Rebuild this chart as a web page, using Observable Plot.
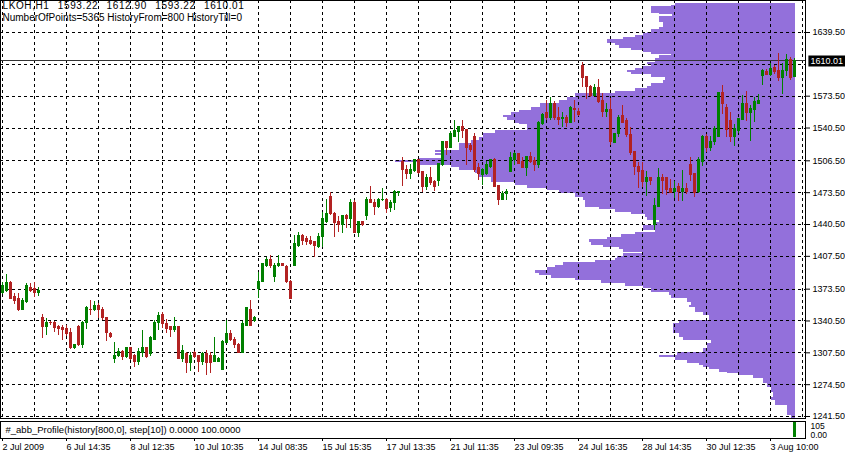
<!DOCTYPE html>
<html><head><meta charset="utf-8">
<script src="https://cdn.jsdelivr.net/npm/d3@7"></script>
<script src="https://cdn.jsdelivr.net/npm/@observablehq/plot@0.6"></script>
<style>
html,body{margin:0;padding:0;background:#fff;}
#chart svg{display:block;}
#chart text{white-space:pre;}
</style></head><body><div id="chart"></div>
<script>
// ---------- data ----------
const symbol = "LKOH,H1";
const headerOHLC = "1593.22 1612.90 1593.22 1610.01";
const headerInfo = "NumberOfPoints=5365 HistoryFrom=800 HistoryTill=0";
const indicatorLabel = "#_abb_Profile(history[800,0], step[10]) 0.0000 100.0000";
const indicatorMaxLabel = "105";
const indicatorMinLabel = "0.00";
const dateLabels = ["2 Jul 2009","6 Jul 14:35","8 Jul 12:35","10 Jul 10:35","14 Jul 08:35","15 Jul 15:35","17 Jul 13:35","21 Jul 11:35","23 Jul 09:35","24 Jul 16:35","28 Jul 14:35","30 Jul 12:35","3 Aug 10:00"];
const priceTicks = [1639.5,1606.5,1573.5,1540.5,1506.5,1473.5,1440.5,1407.5,1373.5,1340.5,1307.5,1274.5,1241.5];
const hiddenTick = 1606.5;
const lastPrice = 1610.01;

const open = [1369.0,1371.1,1379.4,1364.9,1362.8,1352.4,1359.7,1375.2,1373.2,1370.0,
1343.1,1333.8,1338.9,1337.9,1333.8,1332.8,1331.7,1327.6,1312.0,1333.8,
1316.1,1337.9,1352.4,1351.4,1356.5,1352.4,1343.1,1327.5,1300.6,1303.7,
1307.9,1302.7,1312.0,1303.7,1298.5,1306.8,1312.0,1305.8,1321.3,1337.9,
1346.2,1336.9,1333.8,1330.7,1333.8,1301.6,1305.8,1296.5,1306.8,1303.7,
1298.5,1305.8,1304.7,1298.5,1298.5,1290.2,1317.2,1326.5,1321.3,1316.1,
1306.8,1335.8,1352.4,1340.0,1373.2,1380.4,1398.0,1403.2,1386.6,1397.0,
1399.1,1396.0,1381.4,1398.0,1417.7,1428.1,1425.0,1422.9,1421.9,1416.7,
1427.1,1443.6,1468.5,1450.9,1442.6,1440.5,1448.8,1445.7,1463.3,1432.2,
1442.6,1448.8,1466.4,1463.3,1458.2,1465.4,1466.4,1457.1,1463.3,1472.7,
1504.8,1497.5,1492.4,1495.5,1506.9,1494.4,1478.9,1489.2,1484.1,1486.1,
1501.7,1525.5,1520.3,1531.7,1535.9,1541.1,1538.0,1521.4,1531.7,1498.6,
1491.3,1492.4,1499.6,1506.9,1479.9,1465.4,1471.6,1494.4,1506.9,1513.1,
1504.8,1498.6,1510.0,1505.8,1501.7,1544.2,1555.6,1550.4,1564.9,1551.4,
1549.4,1550.4,1546.2,1559.7,1557.6,1604.3,1592.9,1582.5,1574.2,1581.5,
1569.0,1556.6,1558.7,1524.5,1534.8,1552.5,1547.3,1532.8,1515.2,1499.6,
1495.5,1484.1,1489.2,1439.5,1458.2,1489.2,1488.2,1477.8,1473.7,1478.9,
1474.7,1477.8,1501.7,1492.4,1473.7,1504.8,1531.7,1520.3,1525.5,1531.7,
1576.3,1560.8,1547.3,1530.7,1536.9,1548.3,1564.9,1555.6,1558.7,1565.9,
1593.9,1598.1,1595.0,1602.2,1599.1,1591.9,1599.1,1610.5,1593.22];

const high = [1380.4,1388.7,1381.4,1369.0,1369.0,1363.8,1379.4,1379.4,1380.4,1375.2,
1347.2,1343.1,1340.0,1340.0,1335.9,1335.9,1335.9,1332.8,1315.1,1335.9,
1340.0,1355.5,1361.7,1360.7,1358.6,1354.5,1344.1,1328.6,1318.2,1312.0,
1309.9,1313.0,1313.0,1305.8,1312.0,1330.7,1313.0,1324.4,1341.0,1349.3,
1349.3,1342.1,1334.8,1344.1,1334.8,1315.1,1307.9,1307.9,1308.9,1304.7,
1307.9,1309.9,1307.9,1323.4,1302.7,1320.3,1341.0,1330.7,1323.4,1317.2,
1340.0,1354.5,1361.7,1345.2,1390.8,1400.1,1406.3,1408.4,1400.1,1408.4,
1400.1,1398.0,1382.5,1429.1,1432.2,1430.2,1428.1,1428.1,1422.9,1431.2,
1453.0,1466.4,1473.7,1453.0,1448.8,1449.9,1450.9,1466.4,1465.4,1442.6,
1442.6,1468.5,1479.9,1466.4,1467.5,1477.8,1467.5,1465.4,1475.8,1474.7,
1510.0,1501.7,1502.7,1507.9,1507.9,1495.5,1492.4,1499.6,1486.1,1503.7,
1526.5,1525.5,1536.9,1548.3,1542.1,1548.3,1538.0,1524.5,1534.8,1503.7,
1498.6,1505.8,1507.9,1509.0,1481.0,1474.7,1476.8,1515.2,1515.2,1514.1,
1510.0,1511.0,1515.2,1510.0,1547.3,1555.6,1569.0,1572.2,1568.0,1561.8,
1556.6,1553.5,1562.8,1569.0,1560.8,1608.4,1592.9,1584.6,1585.6,1590.8,
1576.3,1565.9,1571.1,1534.8,1553.5,1563.9,1550.4,1541.1,1516.2,1504.8,
1504.8,1495.5,1489.2,1467.5,1498.6,1492.4,1489.2,1487.2,1485.1,1483.0,
1496.5,1483.0,1510.0,1493.4,1510.0,1532.8,1533.8,1531.7,1542.1,1577.3,
1584.6,1564.9,1556.6,1544.2,1550.4,1574.2,1578.4,1563.9,1572.2,1575.3,
1601.2,1601.2,1607.4,1605.3,1617.8,1607.4,1616.7,1613.6,1612.90];

const low = [1368.0,1370.0,1362.8,1357.5,1350.3,1351.4,1358.6,1370.0,1364.9,1365.9,
1322.4,1325.5,1335.9,1328.6,1325.5,1320.3,1324.4,1311.0,1311.0,1314.1,
1312.0,1331.7,1346.2,1350.3,1343.1,1341.0,1319.3,1322.4,1296.5,1302.7,
1299.6,1301.6,1299.6,1292.3,1294.4,1302.7,1301.6,1303.7,1320.3,1330.7,
1332.7,1327.5,1323.4,1328.6,1300.6,1297.5,1286.1,1288.2,1301.6,1287.1,
1294.4,1284.0,1286.1,1297.5,1297.5,1290.2,1317.2,1319.3,1312.0,1306.8,
1306.8,1335.8,1335.8,1338.9,1363.8,1380.4,1396.0,1394.9,1380.4,1396.0,
1397.0,1379.4,1362.8,1397.0,1416.7,1418.8,1418.8,1418.8,1406.3,1415.7,
1416.7,1441.6,1449.9,1427.1,1432.2,1431.2,1436.4,1436.4,1431.2,1427.1,
1438.5,1444.7,1462.3,1449.9,1457.1,1464.4,1451.9,1453.0,1455.0,1469.5,
1479.9,1487.2,1487.2,1494.4,1492.4,1473.7,1475.8,1481.0,1474.7,1479.9,
1500.6,1512.1,1519.3,1531.7,1525.5,1529.7,1501.7,1515.2,1494.4,1486.1,
1481.0,1491.3,1498.6,1478.9,1460.2,1465.4,1465.4,1494.4,1501.7,1502.7,
1498.6,1490.3,1503.7,1495.5,1498.6,1543.1,1548.3,1548.3,1548.3,1543.1,
1541.1,1541.1,1545.2,1546.2,1552.5,1582.5,1570.1,1572.2,1574.2,1565.9,
1551.4,1551.4,1522.4,1524.5,1530.7,1546.2,1530.7,1512.1,1491.3,1477.8,
1478.9,1469.5,1481.0,1434.3,1458.2,1471.6,1470.6,1472.7,1467.5,1464.4,
1464.4,1471.6,1485.1,1468.5,1472.7,1500.6,1515.2,1516.2,1522.4,1531.7,
1554.5,1530.7,1525.5,1521.4,1534.8,1548.3,1547.3,1526.5,1546.2,1565.9,
1584.6,1595.0,1593.9,1596.0,1588.7,1575.3,1593.9,1589.8,1593.22];

const close = [1376.3,1379.4,1363.8,1361.7,1352.4,1360.7,1376.3,1371.1,1369.0,1371.1,
1333.8,1337.9,1337.9,1332.8,1331.7,1330.7,1326.5,1312.0,1315.1,1315.1,
1338.9,1353.5,1351.4,1356.5,1352.4,1343.1,1327.6,1323.4,1304.7,1307.9,
1302.7,1312.0,1301.6,1298.5,1307.9,1312.0,1302.7,1322.4,1337.9,1345.2,
1336.9,1331.7,1330.7,1333.8,1301.6,1309.9,1296.5,1304.7,1302.7,1298.5,
1305.8,1296.5,1296.5,1304.7,1301.6,1318.2,1326.5,1321.3,1315.1,1306.8,
1336.9,1353.5,1335.8,1343.1,1381.4,1399.1,1404.2,1397.0,1398.0,1399.1,
1397.0,1380.4,1363.8,1419.8,1428.1,1423.9,1421.9,1420.8,1417.7,1427.1,
1445.7,1450.9,1450.9,1441.6,1439.5,1448.8,1445.7,1463.3,1431.2,1442.6,
1439.5,1466.4,1462.3,1458.2,1466.4,1466.4,1456.1,1463.3,1473.7,1473.7,
1496.5,1492.4,1496.5,1506.9,1493.4,1478.9,1489.2,1483.0,1478.9,1502.7,
1525.5,1520.3,1534.8,1536.9,1541.1,1536.9,1520.3,1517.2,1496.5,1492.4,
1496.5,1501.7,1506.9,1478.9,1465.4,1471.6,1474.7,1509.0,1513.1,1503.7,
1498.6,1510.0,1504.8,1501.7,1545.2,1553.5,1550.4,1565.9,1550.4,1548.3,
1551.4,1546.2,1560.8,1558.7,1554.5,1591.9,1582.5,1574.2,1581.5,1567.0,
1556.6,1558.7,1525.5,1533.8,1551.4,1546.2,1532.8,1514.1,1499.6,1494.4,
1484.1,1489.2,1486.1,1459.2,1489.2,1486.1,1475.8,1472.7,1477.8,1474.7,
1476.8,1473.7,1491.3,1472.7,1506.9,1531.7,1520.3,1526.5,1539.0,1576.3,
1565.9,1538.0,1530.7,1539.0,1549.4,1564.9,1555.6,1559.7,1567.0,1569.0,
1600.1,1595.0,1601.2,1598.1,1591.9,1600.1,1610.5,1591.9,1610.01];

// volume profile: top price of each row and its count (row runs down to the next row's top)
const profTop = [1669.6,1667.5,1666.5,1659.2,1658.2,1656.1,1649.9,1644.7,1642.6,1639.5,
1638.5,1636.4,1634.3,1632.3,1628.1,1626.1,1622.9,1620.9,1618.8,1616.7,
1615.7,1612.6,1608.4,1606.4,1604.3,1602.2,1600.1,1598.1,1596.0,1592.9,
1589.8,1586.7,1583.6,1581.5,1578.4,1576.3,1572.2,1569.0,1565.9,1561.8,
1558.7,1556.6,1553.5,1551.4,1548.3,1545.2,1544.2,1538.0,1534.8,1530.7,
1527.6,1524.5,1517.2,1515.2,1514.1,1512.1,1509.0,1506.9,1504.8,1501.7,
1499.6,1496.5,1493.4,1489.2,1484.1,1480.9,1477.8,1475.8,1472.7,1468.5,
1465.4,1458.2,1456.1,1453.0,1450.9,1447.8,1444.7,1442.6,1439.5,1434.3,
1432.2,1430.2,1427.1,1425.0,1421.9,1418.8,1416.7,1414.6,1411.5,1410.5,
1407.4,1405.3,1403.2,1401.1,1398.0,1396.0,1392.8,1389.7,1387.7,1384.6,
1382.5,1379.4,1376.3,1374.2,1370.0,1366.9,1363.8,1359.7,1356.5,1354.5,
1349.3,1346.2,1341.0,1337.9,1327.5,1323.4,1320.3,1317.2,1312.0,1307.9,
1304.7,1302.7,1299.6,1296.5,1294.4,1292.3,1290.2,1287.1,1286.1,1284.0,
1280.9,1275.7,1271.6,1266.4,1261.2,1258.1,1252.9,1242.5];
const profLen = [120,124,144,136,123,136,132,136,144,148,
152,160,172,188,180,176,164,152,144,124,
136,140,148,144,152,160,168,164,144,130,
132,144,148,160,180,220,228,236,255,264,
276,284,292,288,280,276,268,300,312,316,
324,336,360,352,360,352,376,400,376,344,
336,320,316,304,280,268,248,236,220,212,
210,196,180,164,150,148,136,140,152,140,
160,174,188,206,204,192,176,172,152,172,
178,180,200,232,240,248,260,256,244,220,
194,170,152,144,126,124,108,104,106,100,
92,86,116,122,116,112,84,88,92,118,
136,120,108,96,92,86,76,68,56,42,
32,28,24,22,24,20,8,4];
const profFloor = 1239.4;

const indicatorIdx = [198];
const indicatorVal = [100];

// ---------- build ----------
const UP = "#008000", DOWN = "#B22222", PURPLE = "#9370DB";
const FONT = "Liberation Sans, Arial, sans-serif";
const candles = open.map((o, i) => ({i, o, h: high[i], l: low[i], c: close[i]}));
const col = d => d.c >= d.o ? UP : DOWN;
const rows = profTop.map((t, i) => ({hi: t, lo: i + 1 < profTop.length ? profTop[i + 1] : profFloor, n: profLen[i]}));
const BARS_PER_COUNT = 1 / 4;          // profile count -> bar slots
const profRight = 198.25;              // profile anchored at the last bar
const xDomain = [0, 200];
const xRange = [2, 802];
const gridIdx = d3.range(0, 201, 8);
const labelIdx = dateLabels.map((_, k) => k * 16);
const axisTicks = priceTicks.filter(t => t !== hiddenTick);
const headerLine1 = symbol + " " + headerOHLC;

const main = Plot.plot({
  width: 845, height: 420,
  marginLeft: 0, marginRight: 40, marginTop: 0, marginBottom: 2,
  x: {domain: xDomain, range: xRange, axis: null, label: null},
  y: {domain: [1241.5, 1639.5], range: [416, 32], axis: null, label: null},
  style: {fontFamily: FONT, fontSize: "9px", background: "#fff", color: "#000", overflow: "visible"},
  marks: [
    Plot.rect(rows, {x1: d => profRight - d.n * BARS_PER_COUNT, x2: profRight, y1: "lo", y2: "hi", fill: PURPLE, shapeRendering: "crispEdges"}),
    Plot.ruleX(gridIdx, {stroke: "#000", strokeDasharray: "3,3", shapeRendering: "crispEdges"}),
    Plot.ruleY(priceTicks, {stroke: "#000", strokeDasharray: "3,3", shapeRendering: "crispEdges"}),
    Plot.ruleY([lastPrice], {stroke: "#333", shapeRendering: "crispEdges"}),
    Plot.ruleX(candles, {x: "i", y1: "l", y2: "h", stroke: col, shapeRendering: "crispEdges"}),
    Plot.rect(candles, {x1: d => d.i - 0.375, x2: d => d.i + 0.375, y1: "o", y2: "c", fill: col, insetTop: -0.5, insetBottom: -0.5, shapeRendering: "crispEdges"}),
    Plot.frame({stroke: "#000"}),
    Plot.axisY(axisTicks, {anchor: "right", label: null, tickSize: 4, tickPadding: 3, tickFormat: d => d.toFixed(2), fontSize: 9}),
    Plot.ruleY([lastPrice], {x1: 201.6, x2: 212, stroke: "#000", strokeWidth: 11}),
    Plot.text([lastPrice], {y: d => d, x: 201.6, text: d => d.toFixed(2), textAnchor: "start", dx: 1.5, fill: "#fff", fontSize: 9}),
    Plot.text([headerLine1], {text: d => d, frameAnchor: "top-left", dx: 2, dy: 1, lineAnchor: "top", textAnchor: "start", fontSize: 10, fill: "#000"}),
    Plot.text([headerInfo], {text: d => d, frameAnchor: "top-left", dx: 2, dy: 13, lineAnchor: "top", textAnchor: "start", fontSize: 10, fill: "#000"})
  ]
});

const sub = Plot.plot({
  width: 845, height: 34,
  marginLeft: 0, marginRight: 40, marginTop: 1, marginBottom: 16,
  x: {domain: xDomain, range: xRange, axis: null, label: null},
  y: {domain: [0, 100], range: [17, 2], axis: null, label: null},
  style: {fontFamily: FONT, fontSize: "9px", background: "#fff", color: "#000", overflow: "visible"},
  marks: [
    Plot.ruleX(indicatorIdx.map((i, k) => ({i, v: indicatorVal[k]})), {x: "i", y1: 0, y2: "v", stroke: UP, strokeWidth: 3}),
    Plot.frame({stroke: "#000"}),
    Plot.text([indicatorLabel], {text: d => d, frameAnchor: "left", dx: 5, textAnchor: "start", fontSize: 9.5, fill: "#000"}),
    Plot.text([indicatorMaxLabel], {text: d => d, frameAnchor: "right", dx: 5, dy: -4, textAnchor: "start", fontSize: 8.5, fill: "#000"}),
    Plot.text([indicatorMinLabel], {text: d => d, frameAnchor: "right", dx: 5, dy: 5, textAnchor: "start", fontSize: 8.5, fill: "#000"}),
    Plot.axisX(labelIdx, {anchor: "bottom", label: null, tickSize: 3, tickPadding: 2, textAnchor: "start", tickFormat: d => dateLabels[d / 16], fontSize: 9})
  ]
});

// the terminal's header font has wide figures and wide gaps: spread the quote line a little
d3.select(main).selectAll("text").filter(function() { return this.textContent === headerLine1; })
  .style("letter-spacing", "0.6px").style("word-spacing", "5px");

const root = document.getElementById("chart");
root.append(main, sub);
</script></body></html>
